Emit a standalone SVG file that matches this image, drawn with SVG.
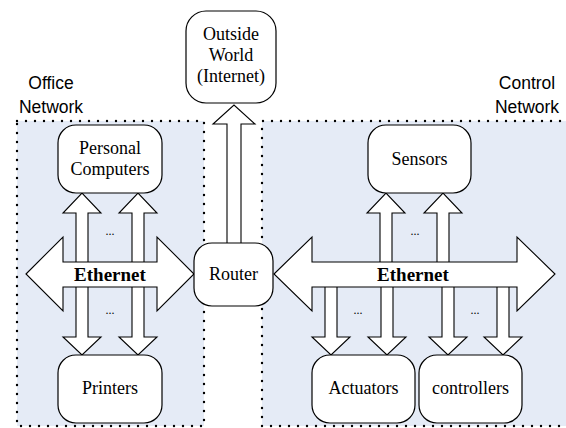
<svg xmlns="http://www.w3.org/2000/svg" width="566" height="428" viewBox="0 0 566 428">
<style>
.zone{fill:#E5EBF6;stroke:none}
.dot{fill:none;stroke:#000;stroke-width:2.4;stroke-linecap:round;stroke-dasharray:0 9}
.box{fill:#fff;stroke:#000;stroke-width:1.2}
.arr{fill:#fff;stroke:#000;stroke-width:1.1;stroke-linejoin:miter}
.t{font-family:'Times New Roman','Liberation Serif',Tinos,serif;font-size:18px;text-anchor:middle;fill:#000}
.eth{font-family:'Times New Roman','Liberation Serif',Tinos,serif;font-size:19px;font-weight:bold;text-anchor:middle;fill:#000}
.lab{font-family:Arial,'Liberation Sans',Arimo,sans-serif;font-size:17.5px;text-anchor:middle;fill:#000}
.ell{font-family:'Times New Roman','Liberation Serif',Tinos,serif;font-size:12px;text-anchor:middle;fill:#000}
</style>
<rect width="566" height="428" fill="#fff"/>
<g id="office-network">
<rect class="zone" x="17" y="121" width="187" height="305"/>
<path class="dot" d="M17,121 H204 V426 H17 Z"/>
<text class="lab" x="51" y="89">Office</text>
<text class="lab" x="51" y="113">Network</text>
</g>
<g id="control-network">
<rect class="zone" x="262" y="121" width="310" height="305"/>
<path class="dot" d="M262,426 V121 H572 M262,426 H572"/>
<text class="lab" x="527" y="89">Control</text>
<text class="lab" x="527" y="113">Network</text>
</g>
<g id="connectors">
<path class="arr" d="M227,243 V124 H213 L234,105 L255,124 H241 V243"/>
<path class="arr" d="M76,262 V213 H63 L82,193 L101,213 H88 V262"/>
<path class="arr" d="M132,262 V213 H119 L138,193 L157,213 H144 V262"/>
<path class="arr" d="M76,287 V337 H63 L82,355 L101,337 H88 V287"/>
<path class="arr" d="M132,287 V337 H119 L138,355 L157,337 H144 V287"/>
<path class="arr" d="M380,262 V213 H367 L386,193 L405,213 H392 V262"/>
<path class="arr" d="M437,262 V213 H424 L443,193 L462,213 H449 V262"/>
<path class="arr" d="M325,287 V337 H312 L331,355 L350,337 H337 V287"/>
<path class="arr" d="M381,287 V337 H368 L387,355 L406,337 H393 V287"/>
<path class="arr" d="M442,287 V337 H429 L448,355 L467,337 H454 V287"/>
<path class="arr" d="M497,287 V337 H484 L503,355 L522,337 H509 V287"/>
<path class="arr" d="M26,274 L63,237 V262 H157 V237 L194,274 L157,311 V287 H63 V311 Z"/>
<path class="arr" d="M274,274 L312,237 V262 H517 V237 L555,274 L517,311 V287 H312 V311 Z"/>
<text class="eth" x="110" y="281">Ethernet</text>
<text class="eth" x="413" y="281">Ethernet</text>
<text class="ell" x="110" y="235">...</text>
<text class="ell" x="110" y="314">...</text>
<text class="ell" x="415" y="235">...</text>
<text class="ell" x="358" y="314">...</text>
<text class="ell" x="475" y="314">...</text>
</g>
<g id="outside-world">
<rect class="box" x="186" y="11" width="90" height="92" rx="20"/>
<text class="t" x="231" y="40">Outside</text>
<text class="t" x="231" y="61">World</text>
<text class="t" x="231" y="82">(Internet)</text>
</g>
<g id="router">
<rect class="box" x="194" y="243" width="79" height="63" rx="18"/>
<text class="t" x="233.5" y="280">Router</text>
</g>
<g id="personal-computers">
<rect class="box" x="58" y="125" width="104" height="68" rx="18"/>
<text class="t" x="110" y="154">Personal</text>
<text class="t" x="110" y="175">Computers</text>
</g>
<g id="printers">
<rect class="box" x="58" y="355" width="104" height="68" rx="18"/>
<text class="t" x="110" y="394">Printers</text>
</g>
<g id="sensors">
<rect class="box" x="368" y="125" width="103" height="68" rx="18"/>
<text class="t" x="419.5" y="165">Sensors</text>
</g>
<g id="actuators">
<rect class="box" x="312" y="355" width="103" height="68" rx="18"/>
<text class="t" x="363.5" y="394">Actuators</text>
</g>
<g id="controllers">
<rect class="box" x="419" y="355" width="103" height="68" rx="18"/>
<text class="t" x="470.5" y="394">controllers</text>
</g>
</svg>
